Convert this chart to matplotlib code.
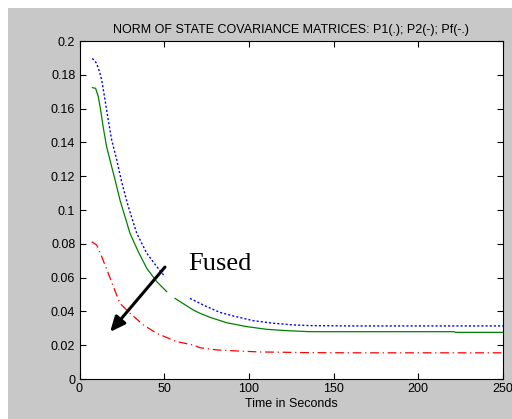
import numpy as np
import matplotlib.pyplot as plt
from matplotlib.patches import Rectangle

# Norm of state covariance matrices (nan = gap in curve)
t_p1 = [7.6, 10.1, 12.1, 13.1, 15.1, 17, 19, 22, 24.9, 28.8, 33.8, 39.7, 45.6, 50.5, 57,
        65.2, 71.1, 73, 82.9, 90.8, 102.6, 114.4, 126.2, 136, 160, 200, 250]
p1 = [0.1897, 0.1868, 0.1809, 0.1769, 0.165, 0.153, 0.1414, 0.1296, 0.1165, 0.102, 0.0862,
      0.0744, 0.0665, 0.0605, np.nan, 0.0477, 0.0448, 0.0438, 0.0394, 0.0373, 0.0345, 0.033,
      0.032, 0.0316, 0.0314, 0.0314, 0.0314]

t_p2 = [7.6, 9.5, 11.1, 12.5, 14, 16, 19, 21, 23.9, 29.8, 34.7, 39.7, 45.6, 51.5, 54, 56.4,
        59.3, 67.2, 71.1, 77, 86.9, 98.7, 110.5, 122.3, 136, 160, 221, 222, 250]
p2 = [0.1724, 0.172, 0.167, 0.159, 0.149, 0.1375, 0.1256, 0.1178, 0.1059, 0.0862, 0.0753,
      0.0655, 0.0576, 0.0517, np.nan, 0.0477, 0.0458, 0.0408, 0.0389, 0.0365, 0.0333, 0.031,
      0.0294, 0.0286, 0.028, 0.028, 0.028, 0.0276, 0.0276]

t_pf = [7.2, 10.1, 13.1, 17, 20, 23.9, 29.8, 37.7, 45.6, 57.4, 67.2, 71.1, 81, 92.8, 106.6,
        122.3, 133, 160, 250]
pf = [0.0812, 0.0793, 0.0724, 0.0625, 0.0546, 0.0448, 0.0389, 0.032, 0.027, 0.0221, 0.0201,
      0.0185, 0.0172, 0.0166, 0.016, 0.0158, 0.0156, 0.0155, 0.0155]

x_ticks = [0, 50, 100, 150, 200, 250]
y_ticks = [0, 0.02, 0.04, 0.06, 0.08, 0.1, 0.12, 0.14, 0.16, 0.18, 0.2]
y_labels = ["0", "0.02", "0.04", "0.06", "0.08", "0.1", "0.12", "0.14", "0.16", "0.18", "0.2"]

plt.rcParams['font.family'] = ['Liberation Sans', 'DejaVu Sans']

fig = plt.figure(figsize=(5.12, 4.19), dpi=100, facecolor="white")
# gray MATLAB-style figure background with a thin white margin top/left
fig.patches.append(Rectangle((8 / 512, 0), 1, 1 - 8 / 419, transform=fig.transFigure,
                             facecolor="#c8c8c8", edgecolor="none", zorder=-10))

ax = fig.add_axes([79.5 / 512, 1 - 379 / 419, (503 - 79.5) / 512, (379 - 41) / 419])
ax.set_zorder(1)
ax.plot(t_p1, p1, color="#0000ff", linestyle=(0, (1.5, 1.5)), linewidth=1)
ax.plot(t_p2, p2, color="#008000", linestyle="-", linewidth=0.9)
ax.plot(t_pf, pf, color="#ff0000", linestyle=(0, (7, 3, 1, 3)), linewidth=0.9)

ax.annotate("", xy=(17, 0.0266), xytext=(51.5, 0.0675),
            arrowprops=dict(arrowstyle="-|>,head_length=0.9,head_width=0.4", color="black", lw=2.2))
ax.text(64, 0.0645, "Fused", fontsize=19, family="Liberation Serif", va="baseline", ha="left")

ax.set_xlim(0, 250)
ax.set_ylim(0, 0.2)
ax.set_xticks(x_ticks)
ax.set_yticks(y_ticks)
ax.set_yticklabels(y_labels)
ax.tick_params(direction="in", top=True, right=True, labelsize=9, length=4, pad=3)
for s in ax.spines.values():
    s.set_linewidth(0.8)

ax.set_title("NORM OF STATE COVARIANCE MATRICES: P1(.); P2(-); Pf(-.)", fontsize=9, pad=6)
ax.set_xlabel("Time in Seconds", fontsize=9, labelpad=2)

plt.savefig("out.png", dpi=100, facecolor=fig.get_facecolor())
